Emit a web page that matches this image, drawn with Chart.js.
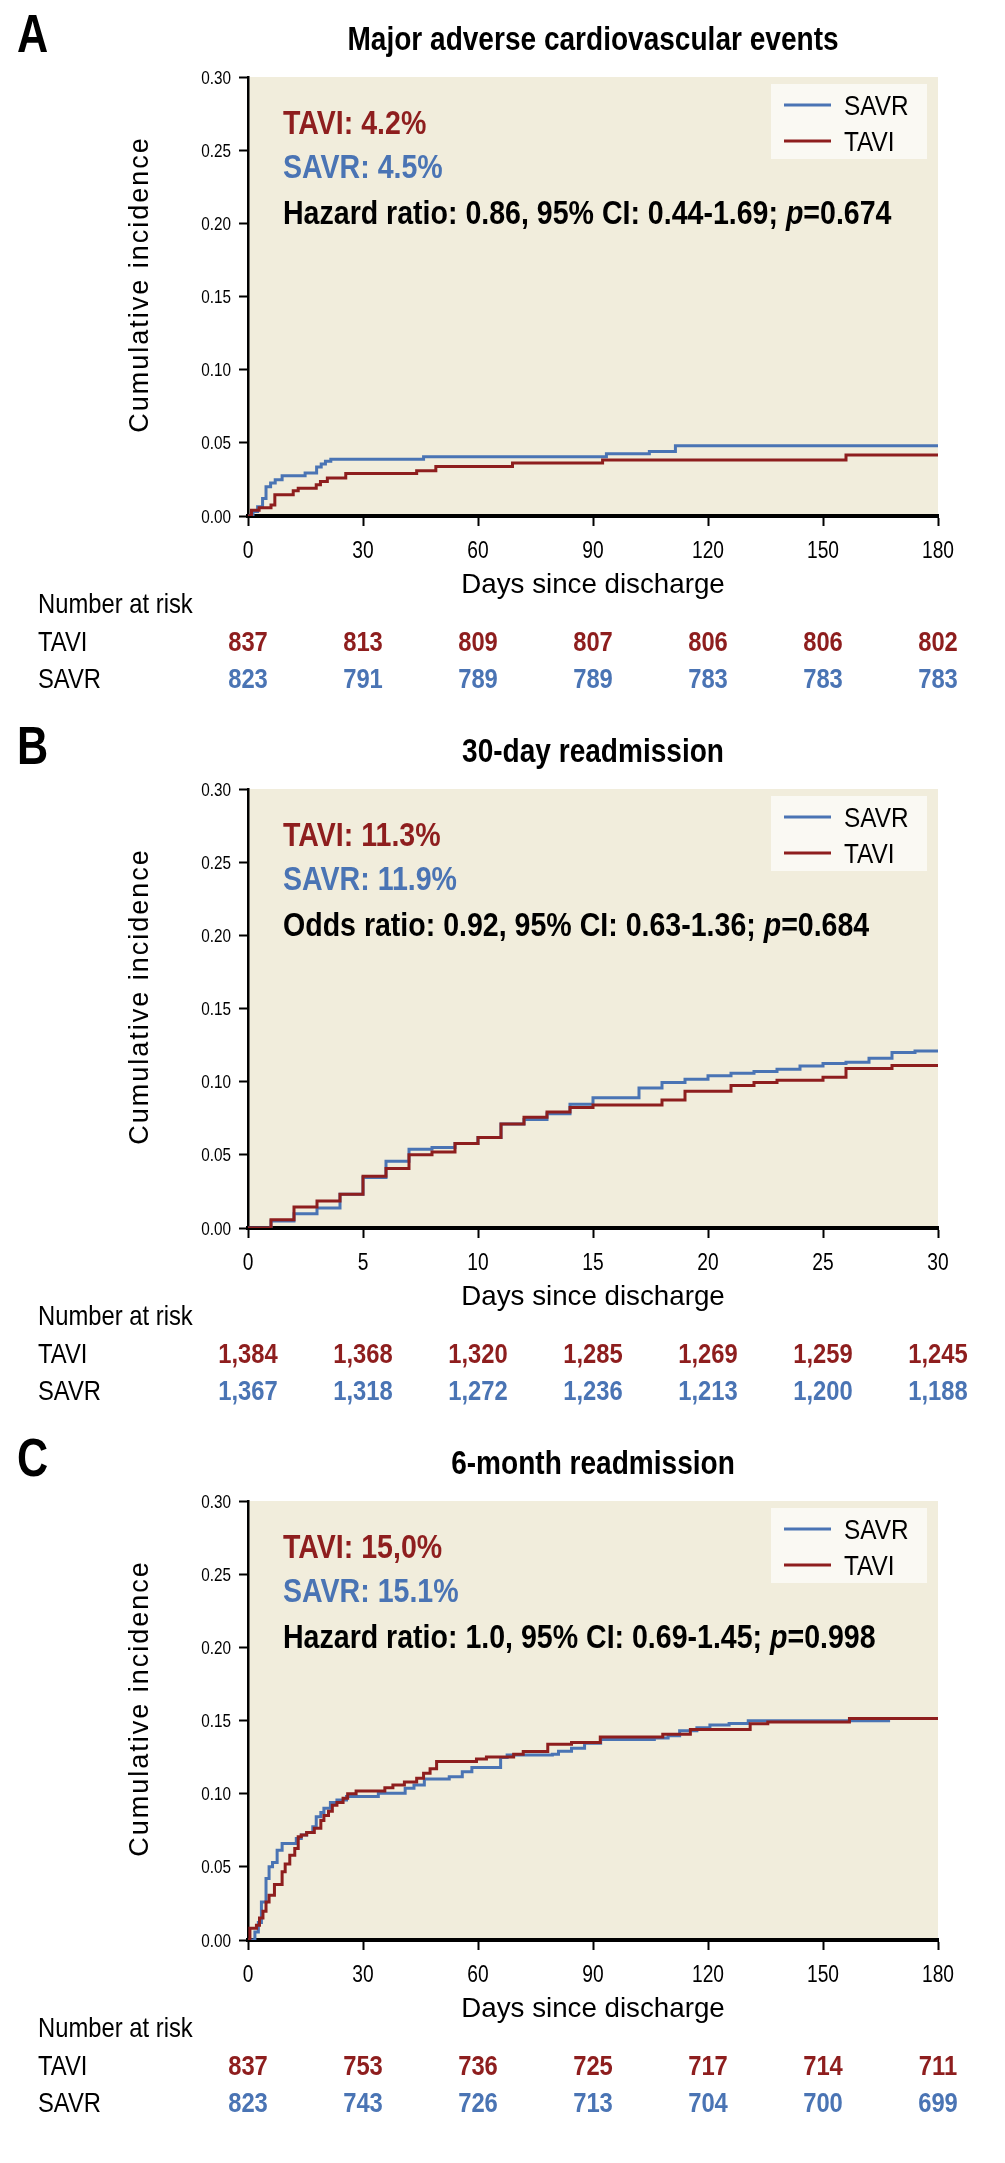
<!DOCTYPE html>
<html><head><meta charset="utf-8">
<script src="https://cdn.jsdelivr.net/npm/chart.js@4.4.1/dist/chart.umd.min.js"></script>
<style>
html,body{margin:0;padding:0;background:#fff;}
#wrap{position:relative;width:1005px;height:2163px;overflow:hidden;background:#fff;}
canvas{position:absolute;left:0;}
</style></head>
<body><div id="wrap">
<canvas id="cA" width="1005" height="712" style="top:0px"></canvas>
<canvas id="cB" width="1005" height="712" style="top:712px"></canvas>
<canvas id="cC" width="1005" height="712" style="top:1424px"></canvas>
</div>
<script>
// ---------- Panel A: Major adverse cardiovascular events (days 0-180) ----------
const maceSavrDays = [0, 1.3, 2.5, 3.8, 4.7, 5.9, 7.1, 8.9, 14.9, 17.9, 19.1, 20.2, 21.6, 45.8, 93.5, 104.7, 111.5, 180];
const maceSavrInc  = [0, 0.003, 0.0064, 0.012, 0.020, 0.0225, 0.0248, 0.0275, 0.0293, 0.0335, 0.0356, 0.0374, 0.0387, 0.0405, 0.0425, 0.044, 0.048, 0.048];
const maceTaviDays = [0, 0.9, 2.9, 6.0, 7.0, 11.8, 13.1, 17.8, 18.9, 20.7, 25.5, 44.0, 49.0, 69.0, 92.5, 156, 180];
const maceTaviInc  = [0, 0.004, 0.0057, 0.0075, 0.0146, 0.0172, 0.019, 0.0213, 0.0236, 0.026, 0.029, 0.031, 0.0339, 0.0362, 0.0382, 0.0417, 0.0417];
const maceRiskTavi = ['837', '813', '809', '807', '806', '806', '802'];
const maceRiskSavr = ['823', '791', '789', '789', '783', '783', '783'];

// ---------- Panel B: 30-day readmission (days 0-30) ----------
const r30Days    = [0, 1, 2, 3, 4, 5, 6, 7, 8, 9, 10, 11, 12, 13, 14, 15, 16, 17, 18, 19, 20, 21, 22, 23, 24, 25, 26, 27, 28, 29, 30];
const r30TaviInc = [0, 0.0057, 0.0144, 0.0185, 0.023, 0.0354, 0.0406, 0.050, 0.052, 0.0578, 0.0619, 0.071, 0.0756, 0.0792, 0.0824, 0.084, 0.084, 0.084, 0.0874, 0.0934, 0.0934, 0.0973, 0.0995, 0.101, 0.101, 0.103, 0.109, 0.109, 0.111, 0.111, 0.111];
const r30SavrInc = [0, 0.0048, 0.0098, 0.0137, 0.023, 0.0345, 0.0457, 0.0539, 0.055, 0.0578, 0.0619, 0.071, 0.0742, 0.078, 0.0845, 0.089, 0.089, 0.0957, 0.0995, 0.1017, 0.104, 0.1057, 0.107, 0.1084, 0.1107, 0.1125, 0.1132, 0.116, 0.120, 0.121, 0.121];
const r30RiskTavi = ['1,384', '1,368', '1,320', '1,285', '1,269', '1,259', '1,245'];
const r30RiskSavr = ['1,367', '1,318', '1,272', '1,236', '1,213', '1,200', '1,188'];

// ---------- Panel C: 6-month readmission (days 0-180) ----------
const r6mTaviDays = [0, 0.5, 2.2, 3.0, 3.9, 4.7, 5.5, 6.9, 8.9, 9.7, 10.9, 12.2, 13.1, 13.9, 15.3, 17.3, 19.0, 19.8, 21.0, 22.0, 23.2, 24.8, 26.0, 28.2, 35.7, 37.8, 40.8, 44.0, 45.8, 47.5, 49.2, 59.6, 62.2, 69.3, 71.8, 78.2, 84.4, 91.9, 108.2, 115.4, 131.0, 135.6, 156.9, 180];
const r6mTaviInc  = [0, 0.008, 0.010, 0.015, 0.0196, 0.026, 0.0306, 0.038, 0.0466, 0.052, 0.058, 0.0626, 0.0705, 0.0717, 0.0735, 0.0763, 0.0817, 0.085, 0.088, 0.092, 0.094, 0.0968, 0.100, 0.1018, 0.104, 0.106, 0.108, 0.1105, 0.114, 0.117, 0.122, 0.1237, 0.125, 0.127, 0.1288, 0.1338, 0.135, 0.1388, 0.1406, 0.1438, 0.1477, 0.149, 0.1514, 0.1514];
const r6mSavrDays = [0, 1.8, 2.7, 3.5, 4.7, 5.5, 6.4, 7.6, 8.9, 12.6, 13.9, 15.3, 16.9, 17.8, 19.0, 19.8, 21.5, 23.2, 25.7, 34.0, 41.0, 43.3, 46.0, 52.5, 55.9, 58.4, 65.9, 67.6, 79.4, 81.0, 84.4, 87.8, 92.0, 106.0, 109.6, 112.6, 117.1, 120.5, 125.5, 130.5, 167.5];
const r6mSavrInc  = [0, 0.0055, 0.0119, 0.026, 0.042, 0.050, 0.053, 0.0614, 0.066, 0.0694, 0.0717, 0.0735, 0.0774, 0.0842, 0.0872, 0.090, 0.094, 0.0957, 0.098, 0.1002, 0.1037, 0.106, 0.110, 0.1116, 0.115, 0.1178, 0.1247, 0.1265, 0.127, 0.129, 0.131, 0.1345, 0.137, 0.138, 0.1395, 0.143, 0.145, 0.147, 0.148, 0.1498, 0.1498];
const r6mRiskTavi = ['837', '753', '736', '725', '717', '714', '711'];
const r6mRiskSavr = ['823', '743', '726', '713', '704', '700', '699'];

const BLUE = '#4A74B4', RED = '#8E1E1E', BG = '#F1EDDC', LEGBG = '#FAF9F3';
const FF = '"Liberation Sans", Arial, Helvetica, sans-serif';

function pts(xs, ys) { return xs.map((x, i) => ({ x: x, y: ys[i] })); }

function drawText(ctx, s, x, y, font, color, align, sx) {
  ctx.save();
  ctx.font = font;
  ctx.fillStyle = color;
  ctx.textBaseline = 'alphabetic';
  ctx.textAlign = 'left';
  const w = ctx.measureText(s).width * sx;
  const x0 = align === 'center' ? x - w / 2 : (align === 'right' ? x - w : x);
  ctx.translate(x0, y);
  ctx.scale(sx, 1);
  ctx.fillText(s, 0, 0);
  ctx.restore();
  return w;
}

function drawRuns(ctx, runs, x, y, color, sx) {
  let cx = x;
  runs.forEach(r => { cx += drawText(ctx, r[0], cx, y, r[1], color, 'left', sx); });
}

function makePanel(id, cfg) {
  const plugin = {
    id: 'kmText',
    beforeDraw(chart) {
      const a = chart.chartArea, ctx = chart.ctx;
      ctx.save();
      ctx.fillStyle = BG;
      ctx.fillRect(a.left, a.top, a.right - a.left, a.bottom - a.top);
      ctx.restore();
    },
    afterDraw(chart) {
      const ctx = chart.ctx, a = chart.chartArea, xs = chart.scales.x, ys = chart.scales.y;
      const cxm = (a.left + a.right) / 2;
      // panel letter and title
      drawText(ctx, cfg.letter, 17, a.top - 25, 'bold 54px ' + FF, '#000', 'left', 0.8);
      drawText(ctx, cfg.title, cxm, a.top - 27, 'bold 33px ' + FF, '#000', 'center', 0.85);
      // annotations
      const af = 'bold 33px ' + FF;
      drawText(ctx, cfg.annoTavi, a.left + 35, a.top + 57, af, RED, 'left', 0.865);
      drawText(ctx, cfg.annoSavr, a.left + 35, a.top + 101, af, BLUE, 'left', 0.865);
      drawRuns(ctx, [[cfg.stat, af], ['p', 'italic bold 33px ' + FF], [cfg.pval, af]], a.left + 35, a.top + 147, '#000', 0.865);
      // legend box
      const lx = a.right - 167, ly = a.top + 7;
      ctx.save();
      ctx.fillStyle = LEGBG;
      ctx.fillRect(lx, ly, 156, 75);
      const dsets = chart.data.datasets;
      [[dsets[0], 21], [dsets[1], 57]].forEach(([d, dy]) => {
        ctx.strokeStyle = d.borderColor;
        ctx.lineWidth = 3;
        ctx.beginPath();
        ctx.moveTo(lx + 13, ly + dy);
        ctx.lineTo(lx + 60, ly + dy);
        ctx.stroke();
        drawText(ctx, d.label, lx + 73, ly + dy + 10, '28px ' + FF, '#000', 'left', 0.87);
      });
      ctx.restore();
      // y tick labels
      ys.ticks.forEach(t => {
        const py = ys.getPixelForValue(t.value);
        drawText(ctx, t.value.toFixed(2), a.left - 17, py + 6.5, '18px ' + FF, '#000', 'right', 0.85);
      });
      // x tick labels
      xs.ticks.forEach(t => {
        const px = xs.getPixelForValue(t.value);
        drawText(ctx, String(t.value), px, a.bottom + 42, '24px ' + FF, '#000', 'center', 0.8);
      });
      // axis titles
      drawText(ctx, 'Days since discharge', cxm, a.bottom + 77, '28px ' + FF, '#000', 'center', 0.99);
      ctx.save();
      ctx.translate(148, (a.top + a.bottom) / 2 - 12);
      ctx.rotate(-Math.PI / 2);
      ctx.font = '27px ' + FF;
      try { ctx.letterSpacing = '2px'; } catch (e) {}
      ctx.fillStyle = '#000';
      ctx.textAlign = 'center';
      ctx.textBaseline = 'alphabetic';
      ctx.fillText('Cumulative incidence', 0, 0);
      ctx.restore();
      // number at risk table
      const rf = '28px ' + FF, nb = 'bold 28px ' + FF;
      drawText(ctx, 'Number at risk', 38, a.bottom + 97, rf, '#000', 'left', 0.85);
      drawText(ctx, 'TAVI', 38, a.bottom + 135, rf, '#000', 'left', 0.85);
      drawText(ctx, 'SAVR', 38, a.bottom + 172, rf, '#000', 'left', 0.85);
      cfg.riskTimes.forEach((tv, i) => {
        const px = xs.getPixelForValue(tv);
        drawText(ctx, cfg.riskTavi[i], px, a.bottom + 135, nb, RED, 'center', 0.85);
        drawText(ctx, cfg.riskSavr[i], px, a.bottom + 172, nb, BLUE, 'center', 0.85);
      });
    }
  };
  const canvas = document.getElementById(id);
  const H = canvas.height;
  return new Chart(canvas, {
    type: 'line',
    data: {
      datasets: [
        { label: 'SAVR', data: cfg.savr, borderColor: BLUE, borderWidth: 3, stepped: true, pointRadius: 0, fill: false, order: 1 },
        { label: 'TAVI', data: cfg.tavi, borderColor: RED, borderWidth: 3, stepped: true, pointRadius: 0, fill: false, order: 0 }
      ]
    },
    options: {
      responsive: false,
      animation: false,
      devicePixelRatio: 1,
      layout: { padding: { left: 0, right: 67, top: 77, bottom: H - 516 - 40 } },
      plugins: { legend: { display: false }, tooltip: { enabled: false }, title: { display: false } },
      scales: {
        x: {
          type: 'linear', min: 0, max: cfg.xMax,
          ticks: { display: false, stepSize: cfg.xStep },
          grid: { drawOnChartArea: false, drawTicks: true, tickLength: 10, tickWidth: 2, tickColor: '#000' },
          border: { display: true, color: '#000', width: 4 },
          afterFit: s => { s.height = 40; }
        },
        y: {
          type: 'linear', min: 0, max: 0.3,
          ticks: { display: false, stepSize: 0.05 },
          grid: { drawOnChartArea: false, drawTicks: true, tickLength: 9, tickWidth: 2, tickColor: '#000' },
          border: { display: true, color: '#000', width: 2.5 },
          afterFit: s => { s.width = 248; }
        }
      }
    },
    plugins: [plugin]
  });
}

const riskTimes180 = [0, 30, 60, 90, 120, 150, 180];
const riskTimes30 = [0, 5, 10, 15, 20, 25, 30];

makePanel('cA', {
  letter: 'A', title: 'Major adverse cardiovascular events', xMax: 180, xStep: 30,
  savr: pts(maceSavrDays, maceSavrInc), tavi: pts(maceTaviDays, maceTaviInc),
  annoTavi: 'TAVI: 4.2%', annoSavr: 'SAVR: 4.5%',
  stat: 'Hazard ratio: 0.86, 95% CI: 0.44-1.69; ', pval: '=0.674',
  riskTimes: riskTimes180, riskTavi: maceRiskTavi, riskSavr: maceRiskSavr
});
makePanel('cB', {
  letter: 'B', title: '30-day readmission', xMax: 30, xStep: 5,
  savr: pts(r30Days, r30SavrInc), tavi: pts(r30Days, r30TaviInc),
  annoTavi: 'TAVI: 11.3%', annoSavr: 'SAVR: 11.9%',
  stat: 'Odds ratio: 0.92, 95% CI: 0.63-1.36; ', pval: '=0.684',
  riskTimes: riskTimes30, riskTavi: r30RiskTavi, riskSavr: r30RiskSavr
});
makePanel('cC', {
  letter: 'C', title: '6-month readmission', xMax: 180, xStep: 30,
  savr: pts(r6mSavrDays, r6mSavrInc), tavi: pts(r6mTaviDays, r6mTaviInc),
  annoTavi: 'TAVI: 15,0%', annoSavr: 'SAVR: 15.1%',
  stat: 'Hazard ratio: 1.0, 95% CI: 0.69-1.45; ', pval: '=0.998',
  riskTimes: riskTimes180, riskTavi: r6mRiskTavi, riskSavr: r6mRiskSavr
});
</script>
</body></html>
